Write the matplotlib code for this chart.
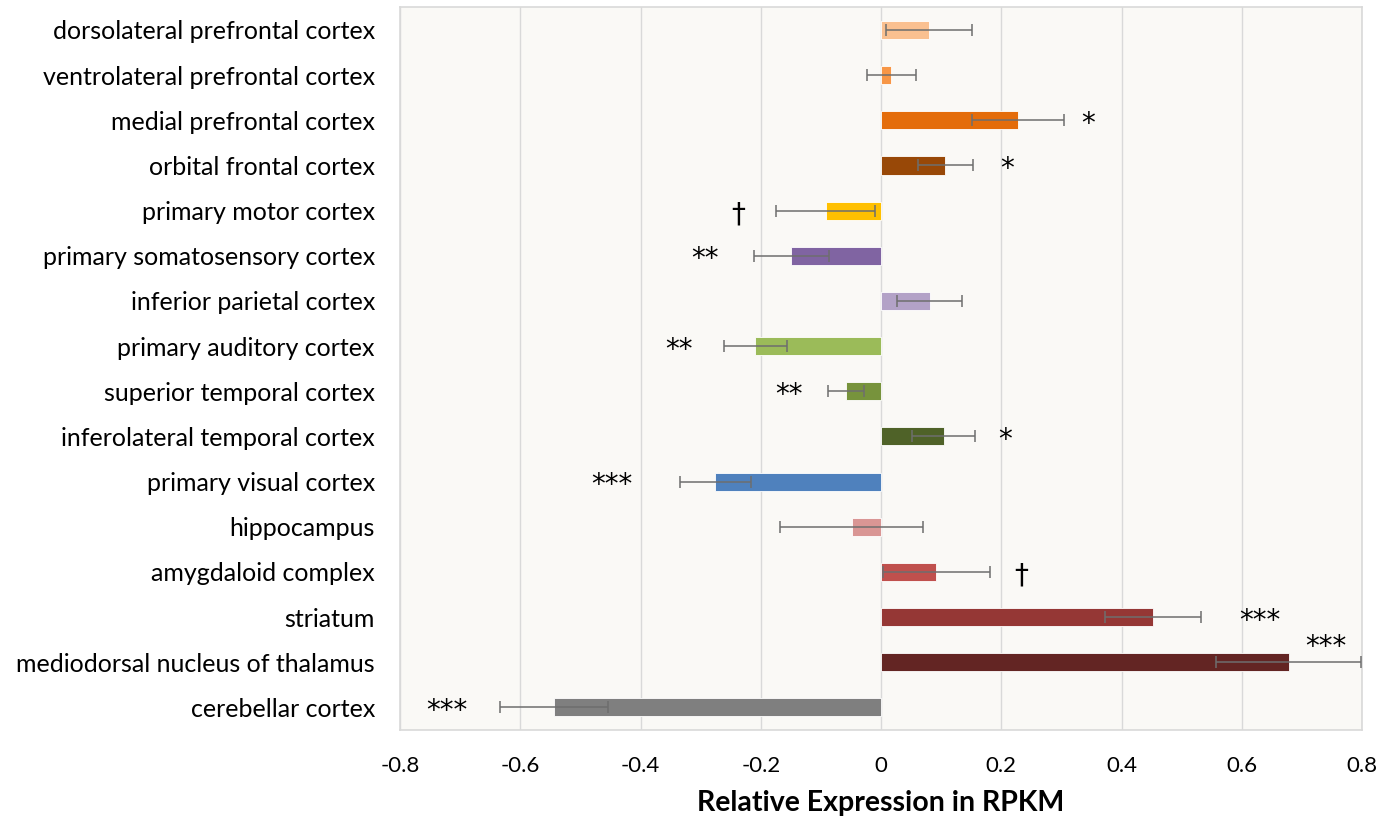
import numpy as np
import matplotlib.pyplot as plt

plt.rcParams['font.family'] = ['Lato', 'DejaVu Sans']

# データ
regions = [
    'dorsolateral prefrontal cortex', 'ventrolateral prefrontal cortex',
    'medial prefrontal cortex', 'orbital frontal cortex', 'primary motor cortex',
    'primary somatosensory cortex', 'inferior parietal cortex',
    'primary auditory cortex', 'superior temporal cortex',
    'inferolateral temporal cortex', 'primary visual cortex', 'hippocampus',
    'amygdaloid complex', 'striatum', 'mediodorsal nucleus of thalamus',
    'cerebellar cortex',
]
values = [0.080, 0.017, 0.228, 0.107, -0.092, -0.149, 0.081, -0.209,
          -0.058, 0.104, -0.276, -0.049, 0.092, 0.453, 0.678, -0.544]
errors = [0.072, 0.041, 0.076, 0.046, 0.082, 0.063, 0.054, 0.052,
          0.030, 0.053, 0.059, 0.119, 0.089, 0.080, 0.121, 0.090]
signif = ['', '', '*', '*', '\u2020', '**', '', '**', '**', '*', '***', '',
          '\u2020', '***', '***', '***']
xticks = [-0.8, -0.6, -0.4, -0.2, 0, 0.2, 0.4, 0.6, 0.8]

colors = ['#FAC090', '#F79646', '#E46C0A', '#984807', '#FFC000', '#8064A2',
          '#B3A2C7', '#9BBB59', '#77933C', '#4F6228', '#4F81BD', '#D99694',
          '#C0504D', '#953735', '#632523', '#7F7F7F']

# 注釈の位置
sig_x = [0, 0, 0.345, 0.209, -0.238, -0.293, 0, -0.336, -0.153, 0.207,
         -0.448, 0, 0.233, 0.63, 0.74, -0.722]
sig_dy = [0] * 14 + [-0.42, 0]

fig = plt.figure(figsize=(13.86, 8.23), dpi=100)
ax = fig.add_axes([0.2886, 0.113, 0.6941, 0.878])
ax.set_facecolor('#FAF9F6')

y = np.arange(len(regions))
ax.barh(y, values, height=0.4, color=colors, edgecolor='white',
        linewidth=0.6, zorder=2)
ax.errorbar(values, y, xerr=errors, fmt='none', ecolor='#6E6E6E',
            elinewidth=1.1, capsize=4, capthick=1.1, zorder=3)

for i, s in enumerate(signif):
    if s:
        ax.text(sig_x[i], y[i] + sig_dy[i] + 0.08, s, ha='center', va='center',
                fontsize=20, color='black', family=['DejaVu Sans'])

ax.set_ylim(len(regions) - 0.5, -0.5)
ax.set_xlim(-0.8, 0.8)
ax.set_xticks(xticks)
ax.set_xticklabels(['%g' % t for t in xticks], fontsize=16)
ax.set_yticks(y)
ax.set_yticklabels(regions, fontsize=18)
ax.tick_params(axis='both', length=0)
ax.tick_params(axis='x', pad=19)
ax.tick_params(axis='y', pad=18)

ax.grid(axis='x', color='#D9D9D9', linewidth=1, zorder=0)
ax.set_axisbelow(True)
for sp in ax.spines.values():
    sp.set_color('#D9D9D9')
    sp.set_linewidth(1.2)

ax.set_xlabel('Relative Expression in RPKM', fontsize=20.5, fontweight='bold',
              labelpad=10)

fig.savefig('out.png', dpi=100)
